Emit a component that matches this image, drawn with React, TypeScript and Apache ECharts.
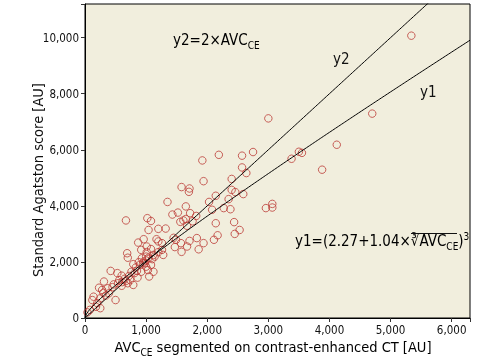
import React, { useEffect, useRef } from "react";
import * as echarts from "echarts";

// AVC_CE (x) values [AU]
const avcValues: number[] = [
  5340, 4700, 4120, 3880, 3500, 3550, 3380, 3000, 3065, 3065, 2960, 2750, 2570, 2570, 2640,
  2400, 2400, 2460, 2590, 2380, 2440, 2530, 2450, 2190, 1920, 1940, 1580, 1710, 1700, 2350,
  2140, 2030, 2080, 2270, 1350, 1650, 1520, 1430, 1720, 1820, 1650, 1560, 1610, 1760, 1670,
  1320, 2140, 2170, 2110, 1830, 1940, 1710, 1670, 1860, 1570, 1580, 1450, 1490, 1470, 1260,
  1260, 1280, 670, 1020, 1080, 1040, 1200, 870, 960, 1170, 1200, 920, 1010, 1080, 1010,
  690, 700, 1120, 1200, 930, 1040, 1000, 1140, 790, 880, 960, 1000, 1080, 1030, 1120,
  1050, 420, 530, 600, 810, 850, 920, 860, 670, 610, 700, 790, 540, 470, 310,
  230, 280, 370, 390, 340, 500, 140, 120, 180, 200, 80, 40, 250, 900, 950,
  1000, 1100, 980, 830, 760, 720, 650, 560, 450, 300, 250, 600, 740,
];
// Standard Agatston score (y) values [AU]
const agatstonValues: number[] = [
  10070, 7290, 6180, 5290, 5930, 5890, 5680, 7120, 4070, 3940, 3920, 5920, 5790, 5370, 5170,
  4960, 4570, 4490, 4420, 3880, 3420, 3140, 3000, 5820, 5620, 4880, 4670, 4620, 4500, 4240,
  4360, 4140, 3860, 3920, 4140, 3980, 3760, 3690, 3740, 3640, 3530, 3430, 3480, 3450, 3290,
  3190, 3380, 2950, 2790, 2850, 2670, 2750, 2550, 2450, 2670, 2360, 2860, 2790, 2530, 2670,
  2430, 2250, 3480, 3560, 3460, 3140, 3180, 2690, 2810, 2810, 2730, 2430, 2550, 2460, 2350,
  2310, 2150, 2250, 2350, 2130, 2150, 2190, 2190, 1920, 1990, 2010, 1830, 1890, 1710, 1650,
  1480, 1680, 1600, 1510, 1600, 1680, 1650, 1440, 1320, 1280, 1240, 1180, 1240, 1200, 1300,
  1080, 1000, 1060, 880, 800, 640, 760, 640, 400, 530, 290, 200, 350, 1900, 1950,
  2050, 2100, 1950, 1800, 1650, 1500, 1400, 1350, 1100, 900, 700, 1150, 1350,
];

// Fit curves shown in the chart
const Y1_A = 2.27;
const Y1_B = 1.04;
const Y2_K = 2;
const X_MAX = 6300;
const Y_MAX = 11200;
const xTicks = [0, 1000, 2000, 3000, 4000, 5000, 6000];
const yTicks = [0, 2000, 4000, 6000, 8000, 10000];

const FONT = '"Liberation Sans Narrow", "DejaVu Sans Condensed", "Liberation Sans", sans-serif';

export default function App() {
  const ref = useRef<HTMLDivElement>(null);
  useEffect(() => {
    if (!ref.current) return;
    const chart = echarts.init(ref.current, null, { renderer: "svg" });
    const scatter = avcValues.map((x, i) => [x, agatstonValues[i]]);
    const curveX: number[] = [];
    for (let x = 0; x <= X_MAX; x += 25) curveX.push(x);
    const y1 = curveX.map((x) => [x, Math.pow(Y1_A + Y1_B * Math.cbrt(x), 3)]);
    const y2 = curveX.map((x) => [x, Y2_K * x]);
    const fmt = (v: number) => v.toLocaleString("en-US");
    const main = { fontSize: 15, fontFamily: FONT, color: "#111", lineHeight: 20 };
    const mainS = { fontSize: 14.5, fontFamily: FONT, color: "#111", lineHeight: 20 };
    const sub = { fontSize: 10, fontFamily: FONT, color: "#111", lineHeight: 10, verticalAlign: "bottom" };
    const sup = { fontSize: 10, fontFamily: FONT, color: "#111", lineHeight: 10, verticalAlign: "top" };
    chart.setOption({
      animation: false,
      grid: {
        left: 85, right: 32, top: 4, bottom: 44,
        show: true, backgroundColor: "#f1eedd", borderColor: "#000", borderWidth: 1,
      },
      xAxis: {
        type: "value", min: 0, max: X_MAX, interval: 1000,
        axisLine: { show: true, lineStyle: { color: "#000" } },
        axisTick: { show: true, length: 4, lineStyle: { color: "#333" } },
        splitLine: { show: false },
        axisLabel: {
          fontFamily: FONT, fontSize: 11.5, color: "#111", margin: 6,
          formatter: (v: number) => (xTicks.includes(v) ? fmt(v) : ""),
        },
      },
      yAxis: {
        type: "value", min: 0, max: Y_MAX, interval: 2000,
        axisLine: { show: true, lineStyle: { color: "#000" } },
        axisTick: { show: true, length: 4, lineStyle: { color: "#333" } },
        splitLine: { show: false },
        axisLabel: {
          fontFamily: FONT, fontSize: 11.5, color: "#111", margin: 6,
          formatter: (v: number) => (yTicks.includes(v) ? fmt(v) : ""),
        },
      },
      series: [
        {
          type: "line", data: y2, showSymbol: false, symbol: "none", clip: true,
          lineStyle: { color: "#000", width: 1 }, silent: true,
        },
        {
          type: "line", data: y1, showSymbol: false, symbol: "none", clip: true,
          lineStyle: { color: "#000", width: 1 }, silent: true,
        },
        {
          type: "scatter", data: scatter, symbol: "circle", symbolSize: 7.5,
          itemStyle: { color: "rgba(0,0,0,0)", borderColor: "#bb3b36", borderWidth: 1 },
        },
      ],
      graphic: [
        {
          type: "text", x: 173, y: 40,
          style: { text: "{m|y2=2×AVC}{s|CE}", rich: { m: main, s: sub }, verticalAlign: "middle" },
        },
        { type: "text", x: 333, y: 59, style: { text: "y2", font: `15px ${FONT}`, fill: "#111", verticalAlign: "middle" } },
        { type: "text", x: 420, y: 92, style: { text: "y1", font: `15px ${FONT}`, fill: "#111", verticalAlign: "middle" } },
        {
          type: "text", x: 295, y: 241,
          style: {
            text: "{m|y1=(2.27+1.04×∛AVC}{s|CE}{m|)}{p|3}",
            rich: { m: main, s: sub, p: sup },
            verticalAlign: "middle",
          },
        },
        {
          type: "line",
          shape: { x1: 411, y1: 233.5, x2: 457, y2: 233.5 },
          style: { stroke: "#111", lineWidth: 1 },
        },
        {
          type: "text", x: 273, y: 347,
          style: {
            text: "{m|AVC}{s|CE}{m| segmented on contrast-enhanced CT [AU]}",
            rich: { m: mainS, s: sub },
            align: "center", verticalAlign: "middle",
          },
        },
        {
          type: "text", x: 38, y: 180, rotation: Math.PI / 2,
          style: {
            text: "Standard Agatston score [AU]", font: `14.5px ${FONT}`, fill: "#111",
            align: "center", verticalAlign: "middle",
          },
        },
      ],
    });
    return () => chart.dispose();
  }, []);
  return <div ref={ref} style={{ position: "fixed", left: 0, top: 0, width: 502, height: 362 }} />;
}
